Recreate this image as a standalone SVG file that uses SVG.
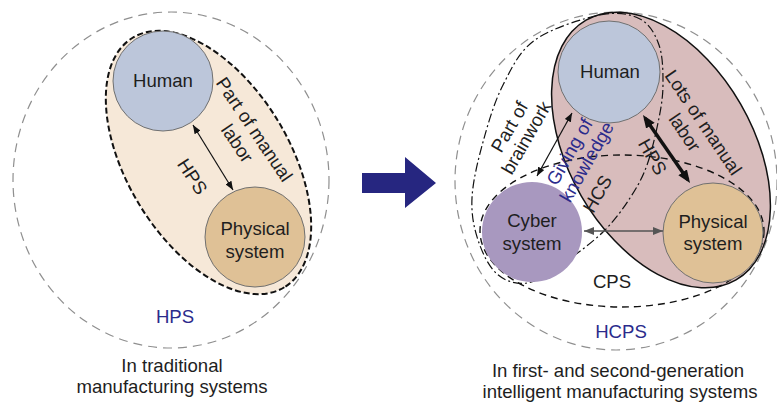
<svg xmlns="http://www.w3.org/2000/svg" width="777" height="403" viewBox="0 0 777 403">
<style>
.t{font-family:"Liberation Sans",Arial,sans-serif;font-size:18.6px;fill:#1e1e1e;text-anchor:middle}
.blue{fill:#2b2b8c}
.circ{stroke:#707070;stroke-width:1}
.outer{fill:none;stroke:#8f8f8f;stroke-width:1.2;stroke-dasharray:9 6}
.human{fill:#bcc6da}
.phys{fill:#dfc196}
.cyber{fill:#a898bf}
</style>
<defs>
<marker id="ah" viewBox="0 0 10 8" refX="10" refY="4" markerWidth="9" markerHeight="7" markerUnits="userSpaceOnUse" orient="auto-start-reverse"><path d="M0,0 L10,4 L0,8 z" fill="#111"/></marker>
<marker id="ahg" viewBox="0 0 10 8" refX="10" refY="4" markerWidth="10" markerHeight="8" markerUnits="userSpaceOnUse" orient="auto-start-reverse"><path d="M0,0 L10,4 L0,8 z" fill="#555"/></marker>
<marker id="aht" viewBox="0 0 10 8" refX="7" refY="4" markerWidth="13" markerHeight="11" markerUnits="userSpaceOnUse" orient="auto-start-reverse"><path d="M0,0 L10,4 L0,8 z" fill="#111"/></marker>
</defs>

<!-- LEFT PANEL -->
<g id="hps-outer">
<ellipse class="outer" cx="171" cy="180" rx="158" ry="168"/>
<text class="t blue" x="175" y="323">HPS</text>
</g>
<g id="hps-core">
<ellipse cx="208.5" cy="162.5" rx="146" ry="81" transform="rotate(58.7 208.5 162.5)" fill="#f6e8d8" stroke="#111" stroke-width="2" stroke-dasharray="6 3"/>
</g>
<g id="human-left">
<circle class="circ human" cx="163" cy="81" r="50"/>
<text class="t" x="163" y="87">Human</text>
</g>
<g id="physical-left">
<circle class="circ phys" cx="255" cy="237" r="50"/>
<text class="t" x="255" y="235">Physical</text>
<text class="t" x="255" y="258">system</text>
</g>
<g id="labels-left">
<g transform="translate(249 133) rotate(56)">
<text class="t" x="0" y="0">Part of manual</text>
<text class="t" x="2" y="22">labor</text>
</g>
<text class="t" transform="translate(187 180) rotate(57)">HPS</text>
<text class="t" x="172" y="372">In traditional</text>
<text class="t" x="172" y="393">manufacturing systems</text>
</g>

<!-- TRANSITION ARROW -->
<g id="transition">
<polygon points="362,173 405,173 405,157 436,183 405,208 405,193 362,193" fill="#262680"/>
</g>

<!-- RIGHT PANEL -->
<g id="hcps-outer">
<ellipse class="outer" cx="616" cy="181" rx="161" ry="169"/>
<text class="t blue" x="621" y="338">HCPS</text>
</g>
<g id="hps-right">
<ellipse cx="661" cy="150" rx="150" ry="92" transform="rotate(60 661 150)" fill="#d8bcbc" stroke="#111" stroke-width="1.5"/>
</g>
<g id="cps">
<ellipse cx="622" cy="231" rx="142" ry="76" fill="none" stroke="#111" stroke-width="1.4" stroke-dasharray="7 5"/>
<text class="t" x="612" y="288">CPS</text>
</g>
<g id="hcs">
<path d="M600,15 C617.5,11.5 630.2,14 640,19 C649.8,24 655.2,34.3 659,45 C662.8,55.7 663,70.8 663,83 C663,95.2 661.7,104.3 659,118 C656.3,131.7 651.8,151.7 647,165 C642.2,178.3 637.3,186.8 630,198 C622.7,209.2 614.3,221 603,232 C591.7,243 574.7,255.5 562,264 C549.3,272.5 537.8,281.3 527,283 C516.2,284.7 505.2,281.2 497,274 C488.8,266.8 482.2,252.7 478,240 C473.8,227.3 471.2,214.3 472,198 C472.8,181.7 477.8,160.8 483,142 C488.2,123.2 494.3,102 503,85 C511.7,68 518.8,51.7 535,40 C551.2,28.3 582.5,18.5 600,15 Z" fill="none" stroke="#111" stroke-width="1.2" stroke-dasharray="9 3 2 3"/>
<text class="t" transform="translate(603 197) rotate(-60)">HCS</text>
</g>
<g id="human-right">
<circle class="circ human" cx="609" cy="72" r="51"/>
<text class="t" x="610" y="78">Human</text>
</g>
<g id="cyber">
<circle class="cyber" cx="532" cy="232" r="50"/>
<text class="t" x="532" y="227">Cyber</text>
<text class="t" x="532" y="250">system</text>
</g>
<g id="physical-right">
<circle class="circ phys" cx="713" cy="233" r="50"/>
<text class="t" x="713" y="228">Physical</text>
<text class="t" x="713" y="250">system</text>
</g>
<g id="labels-right">
<g transform="translate(515 130) rotate(-60)">
<text class="t" x="0" y="0">Part of</text>
<text class="t" x="-1" y="20">brainwork</text>
</g>
<g transform="translate(575 155) rotate(-60)">
<text class="t blue" x="0" y="0">Giving of</text>
<text class="t blue" x="0" y="20">knowledge</text>
</g>
<text class="t" transform="translate(647 160) rotate(60)">HPS</text>
<g transform="translate(698 126) rotate(56)">
<text class="t" x="0" y="0">Lots of manual</text>
<text class="t" x="-2" y="21">labor</text>
</g>
<text class="t" x="618" y="377">In first- and second-generation</text>
<text class="t" x="620" y="398">intelligent manufacturing systems</text>
</g>

<g id="connectors">
<line x1="193" y1="125" x2="233" y2="190" stroke="#111" stroke-width="1.2" marker-start="url(#ah)" marker-end="url(#ah)"/>
<line x1="572" y1="113" x2="537" y2="176" stroke="#111" stroke-width="1.2" marker-start="url(#ah)" marker-end="url(#ah)"/>
<line x1="645.2" y1="118.2" x2="687.8" y2="179.8" stroke="#111" stroke-width="3.5" marker-start="url(#aht)" marker-end="url(#aht)"/>
<line x1="584" y1="231" x2="663" y2="231" stroke="#555" stroke-width="1.5" marker-start="url(#ahg)" marker-end="url(#ahg)"/>
</g>
</svg>
